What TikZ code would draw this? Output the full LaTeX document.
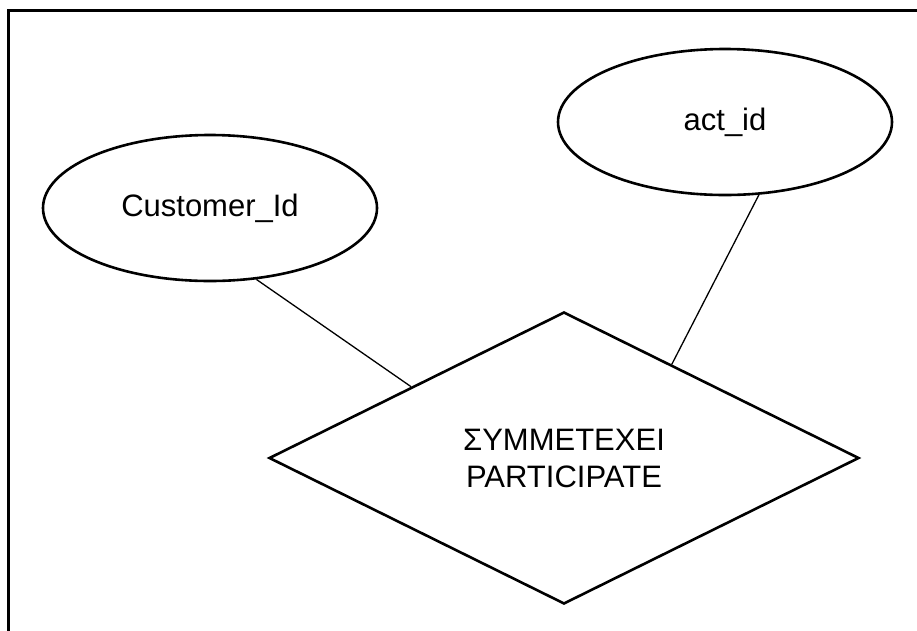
\documentclass[tikz,border=0pt]{standalone}
\usepackage{fontspec}
\setmainfont{Liberation Sans}
\usetikzlibrary{shapes.geometric}

\tikzset{
  attr/.style={ellipse, draw, line width=2.6pt, inner sep=0pt,
    minimum width=334pt, minimum height=146pt,
    font=\fontsize{31}{37}\selectfont},
  relation/.style={diamond, draw, line width=2.6pt, inner sep=0pt,
    minimum width=590pt, minimum height=292pt, align=center,
    font=\fontsize{31}{37}\selectfont},
  link/.style={line width=1.3pt},
  frame/.style={line width=3pt}
}

\begin{document}
\begin{tikzpicture}[x=1pt, y=-1pt]
  \useasboundingbox (0,0) rectangle (917,630);
  \begin{scope}
    \clip (0,0) rectangle (917,630);
    % outer page frame, running past the right and bottom edges
    \draw[frame] (8.5,10) rectangle (1000,700);
  \end{scope}

  % attributes
  \node[attr] (cust) at (210,208) {Customer\_Id};
  \node[attr] (act)  at (725,122) {act\_id};

  % relationship
  \node[relation] (rel) at (564,458) {ΣΥΜΜΕΤΕΧΕΙ\\PARTICIPATE};

  % attribute links
  \draw[link] (cust.-57.6) -- (rel.155);
  \draw[link] (act.-65.7) -- (rel.41.3);
\end{tikzpicture}
\end{document}
